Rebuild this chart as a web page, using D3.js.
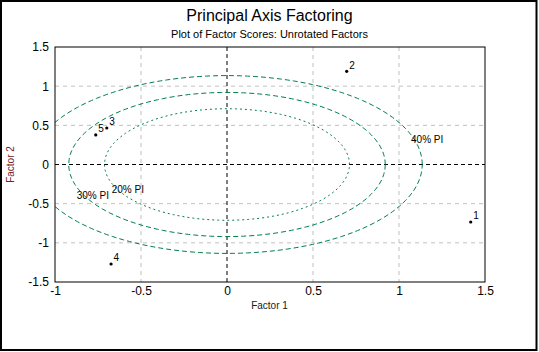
<!DOCTYPE html>
<html><head><meta charset="utf-8">
<script src="https://cdn.jsdelivr.net/npm/d3@7"></script>
<style>
html,body{margin:0;padding:0;background:#fff;}
svg text{font-family:"Liberation Sans",Arial,sans-serif;}
</style></head>
<body><svg id="c" width="539" height="352"></svg>
<script>
// Data
const caseLabels = ["1","2","3","4","5"];
const factor1 = [1.417, 0.696, -0.699, -0.674, -0.763];
const factor2 = [-0.734, 1.19, 0.466, -1.27, 0.377];
const ellipseNames = ["20% PI","30% PI","40% PI"];
const ellipseRadius = [0.712, 0.92, 1.135];
const ellipseLabelX = [-0.670, -0.874, 1.07];
const ellipseLabelY = [-0.364, -0.44, 0.274];
const xTicks = [-1, -0.5, 0, 0.5, 1, 1.5];
const yTicks = [-1.5, -1, -0.5, 0, 0.5, 1, 1.5];
const tickText = v => String(v);

const svg = d3.select("#c");
const L = 55, R = 485, T = 47, B = 282;
const x = d3.scaleLinear().domain([-1, 1.5]).range([L, R]);
const y = d3.scaleLinear().domain([-1.5, 1.5]).range([B, T]);

// outer frame
svg.append("rect").attr("x", 1).attr("y", 1).attr("width", 535.5).attr("height", 349)
  .attr("fill", "#fff").attr("stroke", "#000").attr("stroke-width", 2);

// titles
svg.append("text").attr("x", 269.5).attr("y", 21).attr("text-anchor", "middle")
  .attr("font-size", 16).attr("fill", "#000").text("Principal Axis Factoring");
svg.append("text").attr("x", 269.5).attr("y", 38).attr("text-anchor", "middle")
  .attr("font-size", 11).attr("fill", "#000").text("Plot of Factor Scores: Unrotated Factors");

// clip
svg.append("clipPath").attr("id", "pc").append("rect")
  .attr("x", L).attr("y", T).attr("width", R - L).attr("height", B - T);

const g = svg.append("g").attr("clip-path", "url(#pc)");

// grid
g.selectAll(".gx").data(xTicks.filter(v => v !== 0 && v > -1 && v < 1.5)).enter().append("line")
  .attr("x1", d => x(d)).attr("x2", d => x(d)).attr("y1", T).attr("y2", B)
  .attr("stroke", "#c0c0c0").attr("stroke-dasharray", "4,4");
g.selectAll(".gy").data(yTicks.filter(v => v !== 0 && v > -1.5 && v < 1.5)).enter().append("line")
  .attr("y1", d => y(d)).attr("y2", d => y(d)).attr("x1", L).attr("x2", R)
  .attr("stroke", "#c0c0c0").attr("stroke-dasharray", "4,4");

// zero lines
g.append("line").attr("x1", x(0)).attr("x2", x(0)).attr("y1", T).attr("y2", B)
  .attr("stroke", "#000").attr("stroke-dasharray", "4,3");
g.append("line").attr("y1", y(0)).attr("y2", y(0)).attr("x1", L).attr("x2", R)
  .attr("stroke", "#000").attr("stroke-dasharray", "4,3");

// ellipses
const angles = d3.range(0, 361, 2).map(a => a * Math.PI / 180);
const line = d3.line().x(d => d[0]).y(d => d[1]);
ellipseRadius.forEach((r, i) => {
  const pts = angles.map(a => [x(r * Math.cos(a)), y(r * Math.sin(a))]);
  g.append("path").attr("d", line(pts)).attr("fill", "none")
    .attr("stroke", "#00804a").attr("stroke-width", 1)
    .attr("stroke-dasharray", i === 0 ? "2,3" : "5,3");
});
ellipseNames.forEach((n, i) => {
  svg.append("text").attr("x", x(ellipseLabelX[i])).attr("y", y(ellipseLabelY[i]))
    .attr("font-size", 10).attr("fill", "#000").text(n);
});

// points
factor1.forEach((v, i) => {
  svg.append("circle").attr("cx", x(v)).attr("cy", y(factor2[i])).attr("r", 1.6).attr("fill", "#000");
  svg.append("text").attr("x", x(v) + 2.5).attr("y", y(factor2[i]) - 2.5)
    .attr("font-size", 10).attr("fill", "#000").text(caseLabels[i]);
});

// plot frame
svg.append("rect").attr("x", L).attr("y", T).attr("width", R - L).attr("height", B - T)
  .attr("fill", "none").attr("stroke", "#000").attr("stroke-width", 1);

// axes
const ya = svg.append("g").attr("transform", `translate(${L},0)`)
  .call(d3.axisLeft(y).tickValues(yTicks).tickFormat(tickText).tickSize(0).tickPadding(6));
const xa = svg.append("g").attr("transform", `translate(0,${B})`)
  .call(d3.axisBottom(x).tickValues(xTicks).tickFormat(tickText).tickSize(0).tickPadding(4));
[ya, xa].forEach(a => {
  a.select(".domain").remove();
  a.selectAll("text").attr("font-size", 12).attr("fill", "#000")
    .attr("font-family", "'Liberation Sans',Arial,sans-serif");
});

// axis titles
svg.append("text").attr("x", 269.5).attr("y", 309).attr("text-anchor", "middle")
  .attr("font-size", 10).attr("fill", "#202020").text("Factor 1");
svg.append("text").attr("transform", `translate(14,${y(0)}) rotate(-90)`).attr("text-anchor", "middle")
  .attr("font-size", 10).attr("fill", "#7a2020").text("Factor 2");
</script>
</body></html>
